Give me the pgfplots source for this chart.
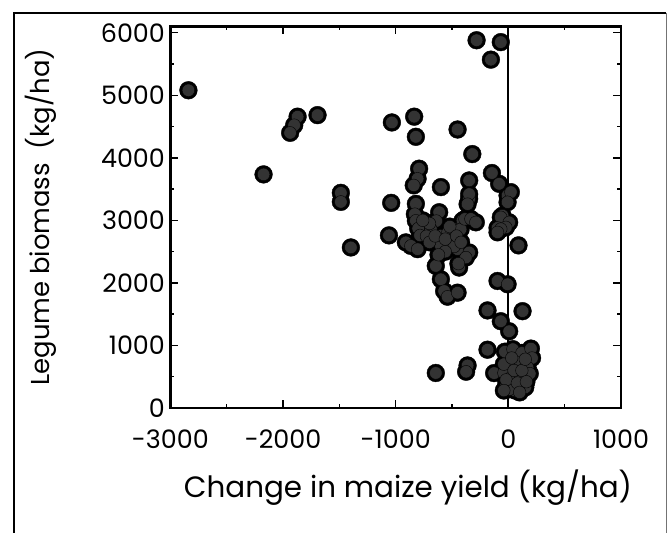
\documentclass[border=0pt]{standalone}
\usepackage{pgfplots}
\pgfplotsset{compat=1.18}
\usepackage{fontspec}
\setmainfont{Poppins}
\pgfplotstableread{
x y
-2840 5080
-1871 4658
-1901 4523
-1937 4400
-1694 4683
-2173 3735
-1487 3440
-1487 3296
-1040 3280
-1034 4566
-1398 2567
-1060 2760
-282 5880
-67 5850
-155 5570
-836 4658
-821 4336
-451 4453
-320 4060
-792 3826
-806 3666
-840 3560
-821 3264
-830 3100
-821 2995
-800 2870
-784 2760
-910 2648
-866 2593
-806 2540
-599 3532
-614 3130
-640 2990
-688 2862
-727 2747
-599 2754
-538 2802
-510 2648
-576 2637
-599 2593
-451 2540
-481 2862
-481 2582
-407 2995
-424 2857
-386 3022
-333 3023
-289 2969
-348 3344
-348 3420
-348 3638
-362 3260
-348 2487
-377 2406
-437 2246
-443 2308
-644 2272
-599 2058
-570 1870
-540 1780
-451 1844
-700 2650
-650 2750
-560 2700
-520 2900
-460 2750
-420 2650
-560 2500
-620 2450
-700 2950
-760 3000
-146 3757
-82 3585
-7 3397
22 3451
-7 3291
-52 3076
-67 3050
7 2969
-22 2889
-96 2880
-67 2862
-96 2809
90 2600
-96 2031
-7 1978
-185 1560
126 1548
-67 1387
7 1227
-185 932
-362 680
-375 580
-644 560
-126 558
-30 900
40 940
120 880
200 950
210 800
170 650
90 720
0 720
-40 560
30 500
110 480
190 550
150 330
60 280
-20 350
10 300
-40 700
50 600
120 600
-20 450
80 400
160 420
100 250
30 800
150 780
-40 280
}\datatable
\begin{document}
\begin{tikzpicture}[x=1bp,y=1bp]
\useasboundingbox (0,0) rectangle (668,533);
\draw[line width=1.2bp] (14,-5) -- (14,520) -- (666,520);
\draw[line width=0.6bp, black!55] (666,520) -- (666,-5);
\begin{axis}[
  at={(170.4bp,125bp)}, anchor=south west,
  scale only axis, width=450.6bp, height=381.5bp,
  xmin=-3000, xmax=1000, ymin=0, ymax=6100,
  axis line style={line width=2.2bp},
  xtick={-3000,-2000,...,1000}, minor xtick={-2500,-1500,...,500},
  ytick={0,1000,...,6000}, minor ytick={500,1500,...,5500},
  tick align=inside, tick style={line width=1.5bp,black},
  major tick length=8bp, minor tick length=4bp,
  tick label style={font=\fontsize{25.5}{25.5}\selectfont},
  xticklabel style={yshift=-18bp},
  yticklabel style={xshift=-2bp},
  /pgf/number format/assume math mode=true,
  /pgf/number format/set thousands separator={},
  clip=false,
]
\addplot[only marks, mark=*, mark size=8.9bp, mark options={fill=black, draw=none}] table {\datatable};
\addplot[only marks, mark=*, mark size=6.3bp, mark options={fill=black!80, draw=none}] table {\datatable};
\addplot[line width=2.2bp, black, no marks] coordinates {(0,0) (0,6100)};
\end{axis}
\node[rotate=90, font=\fontsize{26}{30}\selectfont] at (41,316) {Legume biomass\ \ (kg/ha)};
\node[font=\fontsize{29.5}{33}\selectfont] at (408,45) {Change in maize yield (kg/ha)};
\end{tikzpicture}
\end{document}
